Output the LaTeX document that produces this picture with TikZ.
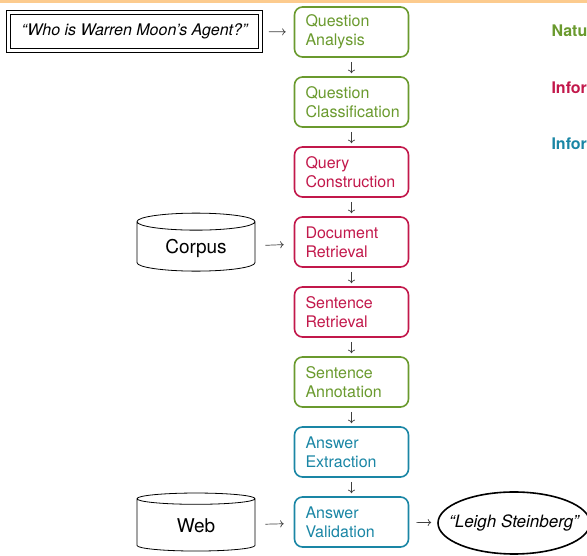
\documentclass[tikz,border=0pt]{standalone}
\usepackage{fontspec}
\setmainfont{TeX Gyre Heros}
\usepackage{tikz}
\usetikzlibrary{arrows,arrows.meta,shapes.geometric,calc}

\definecolor{nlpgreen}{HTML}{6A9A2E}
\definecolor{irred}{HTML}{C2184B}
\definecolor{ieteal}{HTML}{1A86A5}
\definecolor{slideorange}{HTML}{FCCB8E}

\begin{document}
\begin{tikzpicture}[x=1pt,y=1pt,
        stage/.style={draw, rounded corners=8pt, line width=1.6pt, minimum width=114pt, minimum height=50pt,
            text width=92pt, inner xsep=11pt, align=left, font=\fontsize{16}{19}\selectfont},
        store/.style={draw, cylinder, shape border rotate=90, aspect=0.25, line width=0.8pt,
            minimum width=118pt, minimum height=58pt, font=\fontsize{19}{22}\selectfont},
        arr/.style={-{Computer Modern Rightarrow[length=3.5pt,width=7pt]}, draw=black!75, line width=0.7pt},
        track/.style={anchor=west, font=\fontsize{16}{19}\selectfont\bfseries}]
            \useasboundingbox (0,0) rectangle (587,556);
            \fill[slideorange] (0,553) rectangle (587,556);
            % pipeline
            \node[stage, draw=nlpgreen, text=nlpgreen] (QA) at (351.5,524) {Question\\Analysis};
            \node[stage, draw=nlpgreen, text=nlpgreen] (QC) at ($(QA)+(0,-70)$) {Question\\Classification};
            \node[stage, draw=irred, text=irred] (QCo) at ($(QC)+(0,-70)$) {Query\\Construction};
            \node[stage, draw=irred, text=irred] (DR) at ($(QCo)+(0,-70)$) {Document\\Retrieval};
            \node[stage, draw=irred, text=irred] (SR) at ($(DR)+(0,-70)$) {Sentence\\Retrieval};
            \node[stage, draw=nlpgreen, text=nlpgreen] (SA) at ($(SR)+(0,-70)$) {Sentence\\Annotation};
            \node[stage, draw=ieteal, text=ieteal] (AE) at ($(SA)+(0,-70)$) {Answer\\Extraction};
            \node[stage, draw=ieteal, text=ieteal] (AV) at ($(AE)+(0,-70)$) {Answer\\Validation};
            % input, sources, output
            \node[draw, double, line width=0.9pt, double distance=3pt, minimum width=252pt, minimum height=38pt,
                font=\fontsize{16}{19}\selectfont\itshape] (Q) at (134.5,524.5) {“Who is Warren Moon’s Agent?”};
            \node[store] (C) at (196,308) {Corpus};
            \node[store] (W) at (196,30) {Web};
            \node[ellipse, draw, line width=1.6pt, inner xsep=-26pt, inner ysep=0pt, minimum width=152pt,
                minimum height=62pt, font=\fontsize{17}{20}\selectfont\itshape] (L) at (514,33) {“Leigh Steinberg”};
            % legend
            \node[track, text=nlpgreen] (T1) at (548,525) {Natu};
            \node[track, text=irred] (T2) at (548,468) {Infor};
            \node[track, text=ieteal] (T3) at (548,412) {Infor};
            % arrows
            \draw[arr, shorten <=8pt, shorten >=8pt] (Q) -- (QA);
            \foreach \a/\b in {QA/QC,QC/QCo,QCo/DR,DR/SR,SR/SA,SA/AE,AE/AV}
                \draw[arr, shorten <=4pt, shorten >=3pt] (\a) -- (\b);
            \draw[arr, shorten <=10pt, shorten >=10pt] (C) -- (DR);
            \draw[arr, shorten <=10pt, shorten >=10pt] (W) -- (AV);
            \draw[arr, shorten <=7pt, shorten >=6pt] (AV) -- (L);
        \end{tikzpicture}
\end{document}
